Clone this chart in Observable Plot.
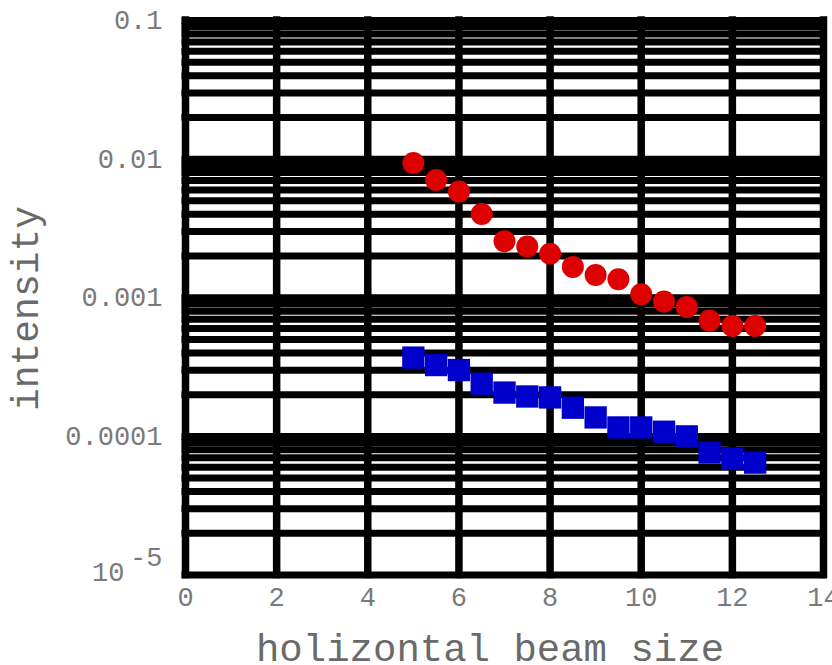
<!DOCTYPE html>
<html>
<head>
<meta charset="utf-8">
<script src="https://cdn.jsdelivr.net/npm/d3@7"></script>
<script src="https://cdn.jsdelivr.net/npm/@observablehq/plot@0.6"></script>
<style>
  html, body { margin: 0; padding: 0; background: #fff; }
</style>
</head>
<body>
<div id="chart"></div>
<script>
// Horizontal beam size for each measurement
const beamSize = [5, 5.5, 6, 6.5, 7, 7.5, 8, 8.5, 9, 9.5, 10, 10.5, 11, 11.5, 12, 12.5];
// Measured intensities, upper (red) series
const intensityRed = [0.00937, 0.00706, 0.00584, 0.00402, 0.00256, 0.00234, 0.00208, 0.00167,
                      0.00146, 0.00136, 0.00106, 0.00094, 0.000857, 0.000684, 0.000625, 0.000625];
// Measured intensities, lower (blue) series
const intensityBlue = [0.000370, 0.000327, 0.000301, 0.000240, 0.000207, 0.000194, 0.000191, 0.000161,
                       0.000137, 0.000116, 0.000116, 0.000108, 0.000100, 0.0000764, 0.0000692, 0.0000647];

// Axis ticks and labels
const xTicks = [0, 2, 4, 6, 8, 10, 12, 14];
const yTicks = [1e-4, 1e-3, 1e-2, 1e-1];
const yTickLabels = ["0.0001", "0.001", "0.01", "0.1"];
const yPowerTick = [1e-5];
const yPowerBase = ["10"];
const yPowerExp = ["-5"];
const xLabel = ["holizontal beam size"];
const yLabel = ["intensity"];

// Log grid: every 1..9 × 10^e line across the decades
const decades = [-5, -4, -3, -2];
const gridY = decades.flatMap(e => [1, 2, 3, 4, 5, 6, 7, 8, 9].map(k => k * Math.pow(10, e))).concat([0.1]);

const red = beamSize.map((x, i) => ({x, y: intensityRed[i]}));
const blue = beamSize.map((x, i) => ({x, y: intensityBlue[i]}));
const yLabelMap = new Map(yTicks.map((t, i) => [t, yTickLabels[i]]));

const mono = "'Liberation Mono', 'DejaVu Sans Mono', monospace";
const tickGray = "#7a7a7a";
const titleGray = "#6a6a6a";

const chart = Plot.plot({
  width: 832,
  height: 665,
  marginLeft: 185,
  marginRight: 9,
  marginTop: 20,
  marginBottom: 90.5,
  style: {fontFamily: mono, background: "#fff"},
  x: {domain: [0, 14]},
  y: {type: "log", domain: [1e-5, 0.1]},
  marks: [
    Plot.ruleY(gridY, {stroke: "#000", strokeWidth: 7, strokeLinecap: "square"}),
    Plot.ruleX(xTicks, {stroke: "#000", strokeWidth: 7.5, strokeLinecap: "square"}),
    Plot.dot(red, {x: "x", y: "y", r: 11, fill: "#dd0000", stroke: "none"}),
    Plot.dot(blue, {x: "x", y: "y", symbol: "square", r: 12.6, fill: "#0000cc", stroke: "none"}),
    Plot.axisX({ticks: xTicks, tickSize: 0, tickPadding: 12, fontSize: 27, fill: tickGray, label: null, tickFormat: d => String(d)}),
    Plot.axisY({ticks: yTicks, tickSize: 0, tickPadding: 23, fontSize: 27, fill: tickGray, label: null, tickFormat: d => yLabelMap.get(d)}),
    Plot.text(yPowerTick, {y: d => d, text: (d, i) => yPowerBase[i], frameAnchor: "left", textAnchor: "end", dx: -61, dy: -2.5, fontSize: 27, fill: tickGray}),
    Plot.text(yPowerTick, {y: d => d, text: (d, i) => yPowerExp[i], frameAnchor: "left", textAnchor: "end", dx: -23, dy: -17.5, fontSize: 27, fill: tickGray}),
    Plot.text(xLabel, {text: d => d, frameAnchor: "bottom", textAnchor: "middle", lineAnchor: "middle", dx: -14.5, dy: 74, fontSize: 39, fill: titleGray}),
    Plot.text(yLabel, {text: d => d, frameAnchor: "left", textAnchor: "middle", lineAnchor: "middle", rotate: -90, dx: -160, dy: 10.75, fontSize: 38, fill: titleGray})
  ]
});

document.getElementById("chart").appendChild(chart);
</script>
</body>
</html>
